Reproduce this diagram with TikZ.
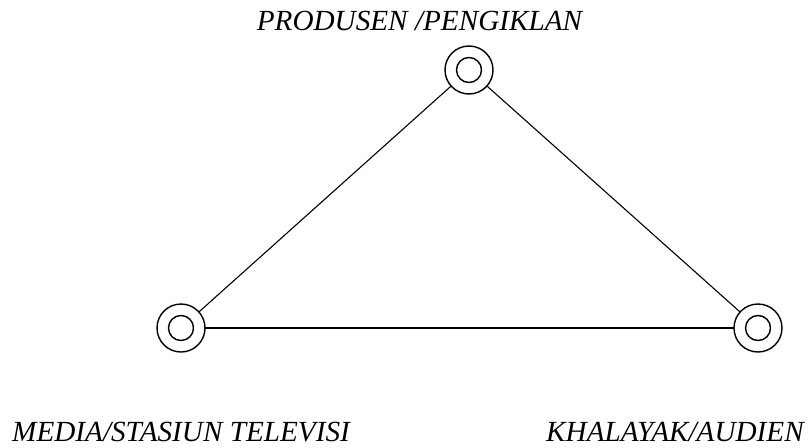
\documentclass[tikz,border=0pt]{standalone}
\usepackage{fontspec}
\setmainfont{Liberation Serif}
\usepackage{tikz}
\usetikzlibrary{positioning}
\tikzset{
  hub/.style={draw, circle, line width=1.4pt, minimum size=48pt, inner sep=0pt, outer sep=0pt},
  hubcore/.style={draw, circle, line width=1.4pt, minimum size=25pt, inner sep=0pt},
  link/.style={line width=1.1pt},
  label/.style={font=\fontsize{29.2}{33}\selectfont\itshape, inner sep=0pt}
}
\begin{document}
\begin{tikzpicture}[x=1pt, y=-1pt]
    \useasboundingbox (0,0) rectangle (811,447);
    \node[hub] (prod) at (469,70) {};
    \node[hubcore] (prod-in) at (prod) {};
    \node[hub] (media) at (181,328) {};
    \node[hubcore] (media-in) at (media) {};
    \node[hub] (aud) at (758,328) {};
    \node[hubcore] (aud-in) at (aud) {};

    \node[label, anchor=base] (prodtext) at (419.5,30) {PRODUSEN /PENGIKLAN};
    \node[label, anchor=base west] (mediatext) at (12,441) {MEDIA/STASIUN TELEVISI};
    \node[label, anchor=base west] (audtext) at (546,441) {KHALAYAK/AUDIEN};

    \draw[link] (media) -- (prod);
    \draw[link] (prod) -- (aud);
    \draw[link] (media) -- (aud);
\end{tikzpicture}
\end{document}
